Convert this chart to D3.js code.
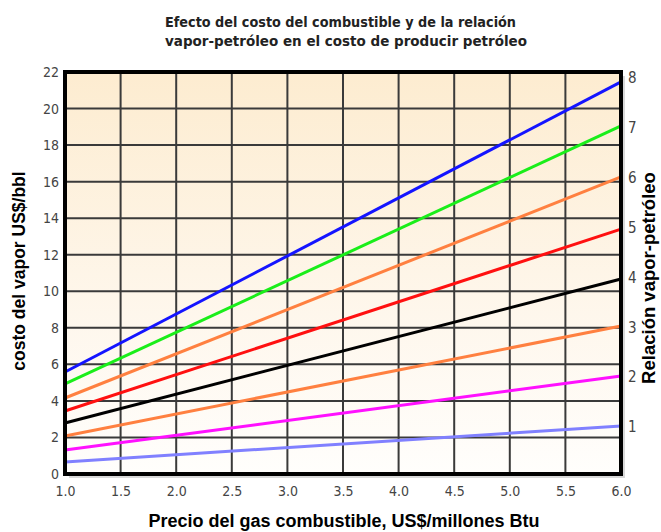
<!DOCTYPE html>
<html><head><meta charset="utf-8">
<script src="https://cdn.jsdelivr.net/npm/d3@7"></script>
<style>body{margin:0;background:#fff}svg{display:block}</style>
</head><body>
<script>
// ---- data ----
const priceTicks = [1.0, 1.5, 2.0, 2.5, 3.0, 3.5, 4.0, 4.5, 5.0, 5.5, 6.0];
const costTicks = [0, 2, 4, 6, 8, 10, 12, 14, 16, 18, 20, 22];
const ratioTicks = [1, 2, 3, 4, 5, 6, 7, 8];
const ratios = [8, 7, 6, 5, 4, 3, 2, 1];
const priceStart = 1.0, priceEnd = 6.0;
const costAtStart = [5.58, 4.93, 4.16, 3.45, 2.79, 2.08, 1.31, 0.66];
const costAtEnd = [21.46, 19.05, 16.26, 13.40, 10.67, 8.10, 5.36, 2.63];
const lineColors = ["#1414ff", "#1aee1a", "#ff8040", "#ff1010", "#000000", "#ff8040", "#ff10ff", "#8080ff"];
const titleLines = ["Efecto del costo del combustible y de la relación", "vapor-petróleo en el costo de producir petróleo"];

const W = 661, H = 532;
const m = {l: 65, r: 621, t: 72, b: 474};
const svg = d3.select("body").append("svg").attr("width", W).attr("height", H);

const x = d3.scaleLinear().domain([1, 6]).range([m.l, m.r]);
const y = d3.scaleLinear().domain([0, 22]).range([m.b, m.t]);
const yr = d3.scaleLinear().domain([0.058, 8.12]).range([m.b, m.t]);

const defs = svg.append("defs");
const g = defs.append("linearGradient").attr("id", "bg").attr("x1", 0).attr("y1", 0).attr("x2", 0).attr("y2", 1);
g.append("stop").attr("offset", "0%").attr("stop-color", "#fdecd0");
g.append("stop").attr("offset", "55%").attr("stop-color", "#fef6ea");
g.append("stop").attr("offset", "100%").attr("stop-color", "#fffefc");

// shadow
svg.append("rect").attr("x", m.l + 4).attr("y", m.t + 4).attr("width", m.r - m.l).attr("height", m.b - m.t)
  .attr("fill", "#d8d8d8");
svg.append("rect").attr("x", m.l).attr("y", m.t).attr("width", m.r - m.l).attr("height", m.b - m.t)
  .attr("fill", "url(#bg)");

// grid
const grid = svg.append("g").attr("stroke", "#3a3a3a").attr("stroke-width", 2);
grid.selectAll("line.v").data(priceTicks).join("line").attr("class", "v")
  .attr("x1", d => x(d)).attr("x2", d => x(d)).attr("y1", m.t).attr("y2", m.b);
grid.selectAll("line.h").data(costTicks).join("line").attr("class", "h")
  .attr("x1", m.l).attr("x2", m.r).attr("y1", d => y(d)).attr("y2", d => y(d));

// lines
const lineGen = d3.line().x(d => x(d[0])).y(d => y(d[1]));
svg.append("g").selectAll("path").data(ratios).join("path")
  .attr("d", (r, i) => lineGen([[priceStart, costAtStart[i]], [priceEnd, costAtEnd[i]]]))
  .attr("fill", "none").attr("stroke", (r, i) => lineColors[i]).attr("stroke-width", 3);

// border
svg.append("rect").attr("x", m.l).attr("y", m.t).attr("width", m.r - m.l).attr("height", m.b - m.t)
  .attr("fill", "none").attr("stroke", "#000").attr("stroke-width", 4);

const tickFont = "'Liberation Sans Narrow','DejaVu Sans Condensed',sans-serif";

// left axis
const la = svg.append("g").attr("transform", `translate(${m.l - 6},0)`)
  .call(d3.axisLeft(y).tickValues(costTicks).tickSize(0).tickPadding(0).tickFormat(d3.format("d")));
la.select(".domain").remove();
la.selectAll("text").attr("font-family", tickFont).attr("font-size", 14).attr("fill", "#444")
  .attr("font-stretch", "condensed");

// right axis
const ra = svg.append("g").attr("transform", `translate(${m.r + 7},0)`)
  .call(d3.axisRight(yr).tickValues(ratioTicks).tickSize(0).tickPadding(0).tickFormat(d3.format("d")));
ra.select(".domain").remove();
ra.selectAll("text").attr("font-family", tickFont).attr("font-size", 15).attr("fill", "#444")
  .attr("font-stretch", "condensed");

// bottom axis
const ba = svg.append("g").attr("transform", `translate(0,${m.b + 12})`)
  .call(d3.axisBottom(x).tickValues(priceTicks).tickSize(0).tickPadding(0).tickFormat(d3.format(".1f")));
ba.select(".domain").remove();
ba.selectAll("text").attr("font-family", tickFont).attr("font-size", 14).attr("fill", "#444")
  .attr("font-stretch", "condensed");

// titles
const tf = "'DejaVu Sans Condensed','Liberation Sans Narrow',sans-serif";
svg.append("g").selectAll("text").data(titleLines).join("text")
  .attr("x", 165).attr("y", (d, i) => 27 + i * 19)
  .attr("font-family", tf).attr("font-weight", "bold").attr("font-size", 14).attr("fill", "#222")
  .attr("textLength", (d, i) => i === 0 ? 351 : 362).attr("lengthAdjust", "spacingAndGlyphs")
  .text(d => d);

const af = "'Liberation Sans',Arial,sans-serif";
svg.append("text").attr("transform", `translate(25,271) rotate(-90)`)
  .attr("text-anchor", "middle").attr("font-family", af).attr("font-weight", "bold").attr("font-size", 17.5)
  .text("costo del vapor US$/bbl");
svg.append("text").attr("transform", `translate(655,278) rotate(-90)`)
  .attr("text-anchor", "middle").attr("font-family", af).attr("font-weight", "bold").attr("font-size", 18.5)
  .text("Relación vapor-petróleo");
svg.append("text").attr("x", 344).attr("y", 527)
  .attr("text-anchor", "middle").attr("font-family", af).attr("font-weight", "bold").attr("font-size", 18)
  .text("Precio del gas combustible, US$/millones Btu");
</script>
</body></html>
